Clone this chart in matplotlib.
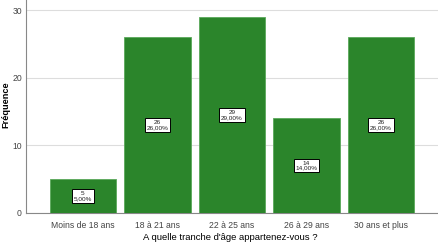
import matplotlib
matplotlib.use("Agg")
import matplotlib.pyplot as plt

plt.rcParams["font.family"] = ["Liberation Sans", "DejaVu Sans"]

categories = ["Moins de 18 ans", "18 à 21 ans", "22 à 25 ans", "26 à 29 ans", "30 ans et plus"]
counts = [5, 26, 29, 14, 26]
percents = ["5,00%", "26,00%", "29,00%", "14,00%", "26,00%"]
yticks = [0, 10, 20, 30]

fig = plt.figure(figsize=(4.38, 2.44), dpi=100)
ax = fig.add_axes([26/438, 1 - 213/244, 1 - 26/438, 213/244])

x = list(range(len(categories)))
bars = ax.bar(x, counts, width=0.886, color="#2b852b", edgecolor="#5aa85a", linewidth=0.6, zorder=3)
for xi, c, p in zip(x, counts, percents):
    ax.text(xi, c / 2, f"{c}\n{p}", ha="center", va="center", fontsize=4.6, linespacing=0.95,
            color="#222222", zorder=4,
            bbox=dict(boxstyle="square,pad=0.3", facecolor="white", edgecolor="black", linewidth=0.7))

ax.set_xlim(-0.765, 4.765)
ax.set_ylim(0, 31.5)
ax.set_yticks(yticks)
ax.set_xticks(x)
ax.set_xticklabels(categories)
ax.tick_params(axis="both", labelsize=6.2, colors="#444444", length=0, pad=3)
ax.tick_params(axis="x", pad=6)
ax.grid(axis="y", color="#dddddd", linewidth=0.8, zorder=0)
for s in ["top", "right"]:
    ax.spines[s].set_visible(False)
for s in ["left", "bottom"]:
    ax.spines[s].set_color("#888888")
    ax.spines[s].set_linewidth(0.8)

fig.text(230/438, 1 - 237/244, "A quelle tranche d'âge appartenez-vous ?", ha="center", va="center",
         fontsize=6.8, color="black")
fig.text(6/438, 1 - 105/244, "Fréquence", ha="center", va="center", rotation=90,
         fontsize=6.6, color="black", fontweight="bold")

fig.savefig("out.png", dpi=100)
